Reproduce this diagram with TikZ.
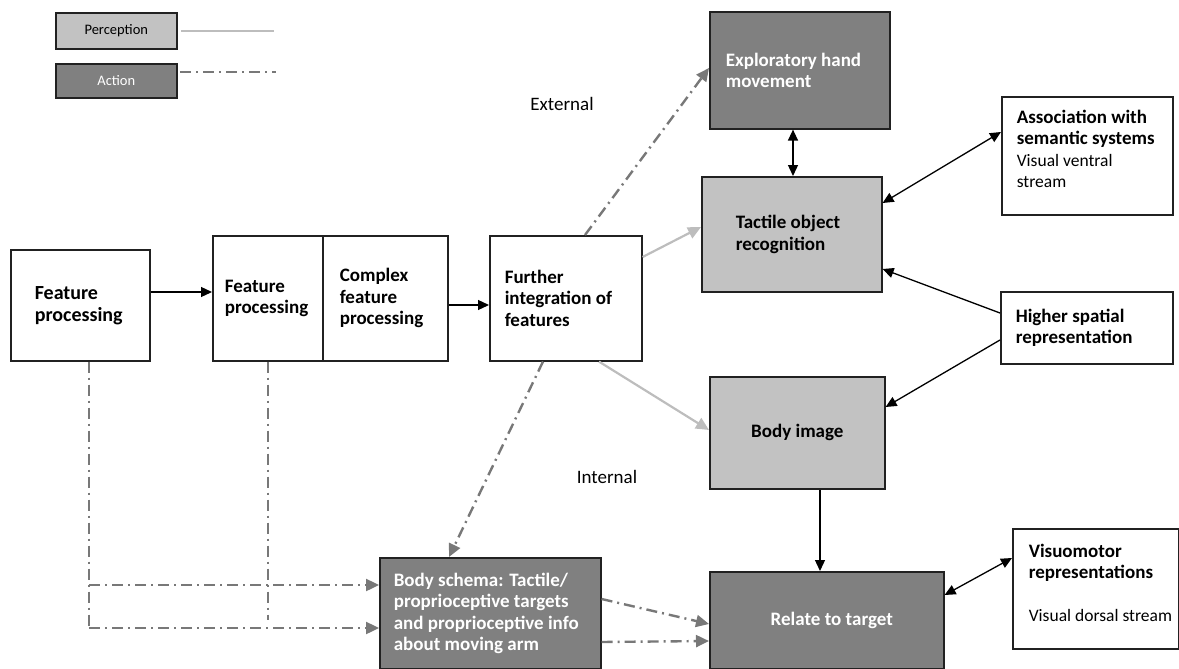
\documentclass[tikz,border=0pt]{standalone}
\usepackage{fontspec}
\setmainfont{Carlito}
\usetikzlibrary{arrows.meta}
\definecolor{lgray}{gray}{0.76}
\definecolor{dgray}{gray}{0.5}
\definecolor{pgray}{gray}{0.74}
\definecolor{agray}{gray}{0.47}
\definecolor{bord}{gray}{0.13}
\newcommand{\nrm}{\mdseries\fontsize{17.5}{21.5}\selectfont}
\newcommand{\tline}[1]{\mbox{\spaceskip=0pt\xspaceskip=0pt\relax #1}}
\tikzset{
  box/.style={draw=bord, line width=1.6pt, rectangle, anchor=north west, inner ysep=0pt, align=left,
    font=\bfseries\fontsize{19}{21.5}\selectfont},
  lightbox/.style={box, fill=lgray},
  darkbox/.style={box, fill=dgray, text=white},
  arr/.style={draw=black, line width=1.3pt, -{Triangle[length=11pt,width=10pt]}},
  darr/.style={draw=black, line width=1.3pt, {Triangle[length=11pt,width=10pt]}-{Triangle[length=11pt,width=10pt]}},
  percarr/.style={draw=pgray, line width=2.2pt, -{Triangle[length=13pt,width=12pt,fill=pgray]}},
  actline/.style={draw=agray, line width=2.4pt, dash pattern=on 11pt off 5pt on 2pt off 5pt},
  actarr/.style={actline, -{Triangle[length=13pt,width=12pt,fill=agray]}},
  plain/.style={font=\fontsize{19}{21.5}\selectfont, inner sep=0pt},
  legendbox/.style={draw=bord, line width=1.6pt, rectangle, anchor=north west, inner sep=0pt,
    font=\fontsize{14.5}{16}\selectfont},
}
\begin{document}
\begin{tikzpicture}[x=1pt,y=-1pt]
\useasboundingbox (0,0) rectangle (1179,669);

% legend
\node[legendbox, fill=lgray, minimum width=121pt, minimum height=36pt] (perc) at (55,12) {Perception};
\node[legendbox, fill=dgray, text=white, minimum width=121pt, minimum height=34pt] (act) at (55,63) {Action};
\coordinate (pl1) at (181,31); \coordinate (pl2) at (274,31);
\coordinate (al1) at (180,72); \coordinate (al2) at (276,72);
\draw[draw=pgray, line width=2.2pt] (pl1) -- (pl2);
\draw[actline] (al1) -- (al2);

% boxes
\node[box, font=\bfseries\fontsize{20}{22}\selectfont, minimum width=139pt, minimum height=111pt, inner xsep=24pt, text width=91pt]
  (fp1) at (10,249) {Feature\\processing};
\node[box, minimum width=110pt, minimum height=125pt, inner xsep=12pt, text width=86pt]
  (fp2) at (212,235) {Feature\\processing};
\node[box, minimum width=125pt, minimum height=125pt, inner xsep=17pt, text width=91pt]
  (cfp) at (322,235) {Complex\\feature\\processing};
\node[box, minimum width=152pt, minimum height=125pt, inner xsep=15pt, text width=122pt]
  (fi) at (489,235) {Further\\\tline{integration of}\\features};
\node[darkbox, minimum width=180pt, minimum height=117pt, inner xsep=16pt, text width=148pt]
  (exp) at (709,11) {\tline{Exploratory hand}\\movement};
\node[lightbox, minimum width=180pt, minimum height=115pt, inner xsep=34pt, text width=112pt]
  (tor) at (701,176) {\tline{Tactile object}\\recognition};
\node[box, minimum width=171pt, minimum height=118pt, inner xsep=15pt, text width=141pt]
  (asc) at (1001,96) {\tline{Association with}\\\tline{semantic systems}\\\nrm\tline{Visual ventral}\\\nrm stream\\[-7.5pt]\mbox{}};
\node[box, minimum width=172pt, minimum height=72pt, inner xsep=15pt, text width=142pt]
  (hsr) at (1000,291) {\tline{Higher spatial}\\representation};
\node[lightbox, minimum width=175pt, minimum height=112pt, inner xsep=0pt, align=center]
  (bi) at (709,376) {Body image};
\node[darkbox, minimum width=221pt, minimum height=111pt, inner xsep=14pt, text width=193pt]
  (bs) at (379,557) {\tline{Body schema: Tactile/}\\\tline{proprioceptive targets}\\\tline{and proprioceptive info}\\\tline{about moving arm}};
\node[darkbox, minimum width=234pt, minimum height=97pt, inner xsep=0pt, align=center]
  (rt) at (709,571) {\hspace*{10pt}Relate to target};
\node[box, minimum width=166pt, minimum height=120pt, inner xsep=16pt, text width=134pt]
  (vm) at (1012,528) {Visuomotor\\representations\\[21.5pt]\nrm\tline{Visual dorsal stream}\\[-9.5pt]\mbox{}};

% labels
\node[plain] (ext) at (562,104) {External};
\node[plain] (int) at (607,477) {Internal};

% perception / black connectors
\draw[arr] (fp1.east |- 0,292) -- (fp2.west |- 0,292);
\draw[arr] (cfp.east |- 0,305) -- (fi.west |- 0,305);
\draw[percarr] (fi.east |- 0,257) -- (tor.west |- 0,227);
\draw[percarr] (fi.south -| 599,0) -- (bi.west |- 0,430);
\draw[darr] (exp.south -| 793,0) -- (tor.north -| 793,0);
\draw[darr] (tor.east |- 0,203) -- (asc.west |- 0,132);
\draw[arr] (hsr.west |- 0,313) -- (tor.east |- 0,269);
\draw[arr] (hsr.west |- 0,340) -- (bi.east |- 0,407);
\draw[arr] (bi.south -| 820,0) -- (rt.north -| 820,0);
\draw[darr] (rt.east |- 0,595) -- (vm.west |- 0,558);

% action connectors
\draw[actarr] (fi.north -| 585,0) -- (exp.west |- 0,68);
\draw[actarr] (fi.south -| 543,0) -- (bs.north -| 449,0);
\coordinate (cU) at (89,585);
\coordinate (cL) at (89,628);
\coordinate (cR) at (268,620);
\draw[actline] (fp1.south -| cL) -- (cL);
\draw[actline] (fp2.south -| cR) -- (cR);
\draw[actarr] (cU) -- (bs.west |- cU);
\draw[actarr] (cL) -- (bs.west |- cL);
\draw[actarr] (bs.east |- 0,599) -- (rt.west |- 0,624);
\draw[actarr] (bs.east |- 0,642) -- (rt.west |- 0,641);
\end{tikzpicture}
\end{document}
